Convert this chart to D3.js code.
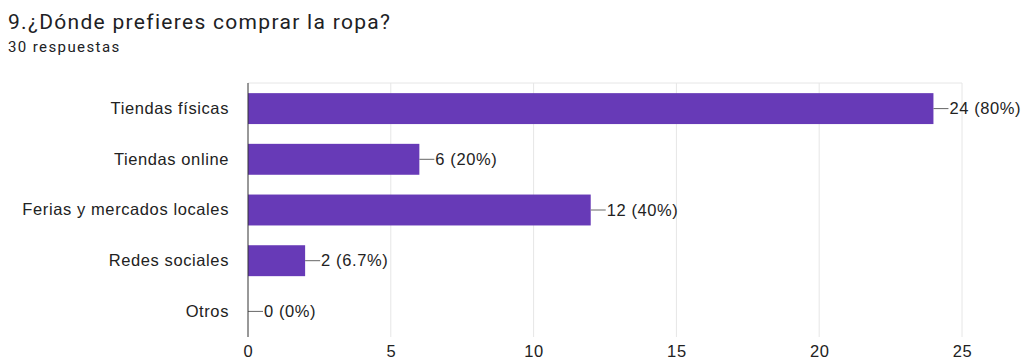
<!DOCTYPE html>
<html><head><meta charset="utf-8">
<script src="https://cdn.jsdelivr.net/npm/d3@7"></script>
<style>
body{margin:0;background:#fff;}
</style></head>
<body><div id="chart"></div>
<script>
const categories = ["Tiendas físicas","Tiendas online","Ferias y mercados locales","Redes sociales","Otros"];
const counts = [24, 6, 12, 2, 0];
const valueLabels = ["24 (80%)","6 (20%)","12 (40%)","2 (6.7%)","0 (0%)"];
const xTicks = [0, 5, 10, 15, 20, 25];

const width = 1024, height = 360;
const margin = { top:83, right:62, bottom:23, left:248 };
const svg = d3.select('#chart').append('svg').attr('width', width).attr('height', height);

// the reference text is a little wide, so stretch it with letter spacing
const txt = sel => sel.style('font-family','Liberation Sans, Arial').style('font-size','16.5px').style('letter-spacing','0.6px').style('fill','#222');

svg.append('text').attr('x', 8).attr('y', 29).style('font-family','Roboto').style('font-size','21px').style('letter-spacing','1.3px').style('fill','#202124').text('9.¿Dónde prefieres comprar la ropa?');
svg.append('text').attr('x', 8).attr('y', 52).style('font-family','Roboto').style('font-size','15px').style('letter-spacing','1.4px').style('fill','#202124').text('30 respuestas');

const x = d3.scaleLinear().domain([0, 25]).range([margin.left, width - margin.right]);
const y = d3.scaleBand().domain(categories).range([margin.top, height - margin.bottom]).paddingInner(0.39).paddingOuter(0.2);

// grid
svg.append('g').selectAll('line').data(xTicks.slice(1)).enter().append('line')
  .attr('x1', d=>x(d)).attr('x2', d=>x(d)).attr('y1', margin.top).attr('y2', height - margin.bottom)
  .attr('stroke','#e6e6e6').attr('stroke-width',1);
svg.append('line').attr('x1', x(0)).attr('x2', x(25)).attr('y1', margin.top).attr('y2', margin.top).attr('stroke','#e6e6e6');

// bars
svg.append('g').selectAll('rect').data(counts).enter().append('rect')
  .attr('x', x(0)).attr('y', (d,i)=>y(categories[i])).attr('width', d=>x(d)-x(0)).attr('height', y.bandwidth())
  .attr('fill','#673ab7');

// value connectors + labels
const vl = svg.append('g');
counts.forEach((d,i)=>{
  const cy = y(categories[i]) + y.bandwidth()/2;
  vl.append('line').attr('x1', x(d)).attr('x2', x(d)+15).attr('y1', cy).attr('y2', cy).attr('stroke','#666').attr('stroke-width',1);
  vl.append('text').attr('x', x(d)+16).attr('y', cy).attr('dy','0.35em').call(txt).text(valueLabels[i]);
});

// y axis
const ya = svg.append('g').attr('transform',`translate(${x(0)},0)`).call(d3.axisLeft(y).tickSize(0).tickPadding(19));
ya.select('.domain').attr('stroke','#333').attr('d', `M0,${margin.top}V${height - margin.bottom}`);
ya.selectAll('text').call(txt);

// x axis labels
const xa = svg.append('g').attr('transform',`translate(0,${height - margin.bottom})`).call(d3.axisBottom(x).tickValues(xTicks).tickSize(0).tickPadding(8));
xa.select('.domain').remove();
xa.selectAll('text').call(txt);
</script></body></html>
